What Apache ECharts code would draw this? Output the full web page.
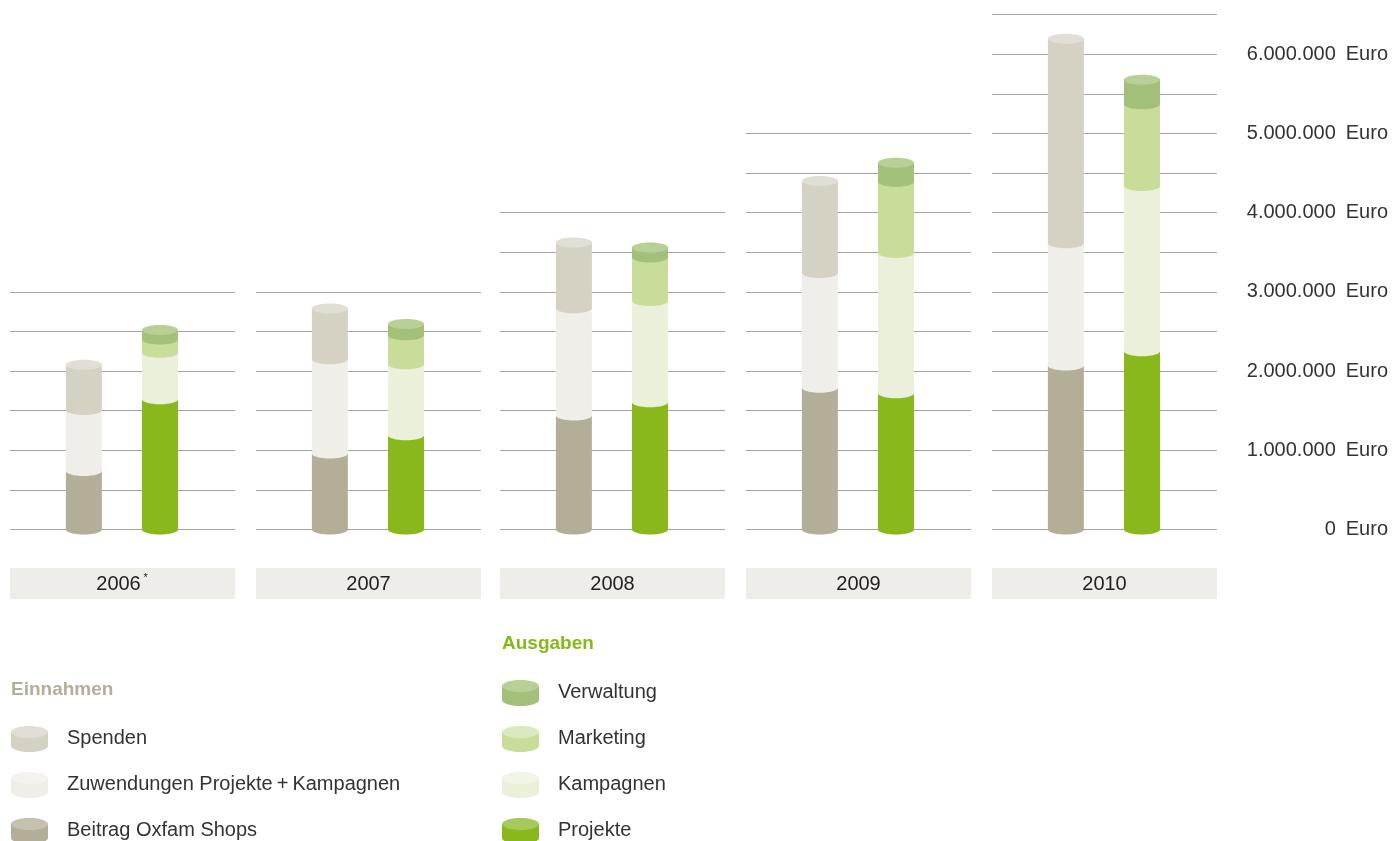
<!DOCTYPE html>
<html>
<head>
	<meta charset="UTF-8">
	<title>Einnahmen und Ausgaben 2006-2010</title>
	<style type="text/css">
		html, body { margin: 0; padding: 0; background: #fff; }
		#container { width: 1393px; height: 841px; }
	</style>
</head>
<body>
	<div id="container"></div>
	<script src="https://cdn.jsdelivr.net/npm/echarts@6/dist/echarts.min.js"></script>
	<script>
		var years = ['2006', '2007', '2008', '2009', '2010'];
		var yearNote = ['*', '', '', '', ''];

		// Einnahmen in Euro
		var beitragShops = [740000, 960000, 1440000, 1790000, 2070000];
		var zuwendungen = [770000, 1190000, 1355000, 1450000, 1545000];
		var spenden = [570000, 640000, 830000, 1160000, 2580000];

		// Ausgaben in Euro
		var projekte = [1645000, 1190000, 1607000, 1720000, 2250000];
		var kampagnen = [587000, 897000, 1279000, 1770000, 2087000];
		var marketing = [167000, 366000, 548000, 900000, 1032000];
		var verwaltung = [120000, 143000, 126000, 240000, 310000];

		// Höhe der Rasterlinien je Jahr
		var panelMax = [3000000, 3000000, 4000000, 5000000, 6500000];

		var einnahmenNames = ['Spenden', 'Zuwendungen Projekte\u2009+\u2009Kampagnen', 'Beitrag Oxfam Shops'];
		var ausgabenNames = ['Verwaltung', 'Marketing', 'Kampagnen', 'Projekte'];

		// Farben: 0 Beitrag, 1 Zuwendungen, 2 Spenden, 3 Projekte, 4 Kampagnen, 5 Marketing, 6 Verwaltung
		var bodyColors = ['#b3ae98', '#efeee9', '#d5d2c3', '#88b81b', '#eaf0da', '#c9dd9b', '#a2c07a'];
		var capColors = ['#c5c1ae', '#f4f3ef', '#e1dfd5', '#a5c95a', '#f1f5e7', '#dbe8c0', '#b8cf96'];

		var FONT = '"Liberation Sans", Arial, sans-serif';
		var baseY = 529.5;
		var pxPerEuro = 79.2 / 1000000;
		var panelLeft = [10, 256, 500, 746, 992];
		var panelW = 225;
		var barW = 36, capR = 5;

		function fmt(v) {
			return String(v).replace(/\B(?=(\d{3})+(?!\d))/g, '.');
		}

		var grids = [], xAxes = [], yAxes = [], series = [], graphics = [];

		for (var i = 0; i < years.length; i++) {
			var h = panelMax[i] * pxPerEuro;
			grids.push({ left: panelLeft[i], width: panelW, top: baseY - h, height: h });
			xAxes.push({ gridIndex: i, type: 'value', min: 0, max: 3, show: false });
			yAxes.push({
				gridIndex: i, type: 'value', min: 0, max: panelMax[i], interval: 500000,
				axisLine: { show: false }, axisTick: { show: false }, axisLabel: { show: false },
				splitLine: { lineStyle: { color: '#a5a5a5', width: 1 } }
			});

			// Stapel: x, von, bis, Farbe, oben?
			var rows = [];
			var s1 = [beitragShops[i], zuwendungen[i], spenden[i]];
			var s2 = [projekte[i], kampagnen[i], marketing[i], verwaltung[i]];
			var acc = 0;
			s1.forEach(function (v, k) {
				rows.push([0.985, acc, acc + v, k, k === s1.length - 1 ? 1 : 0]);
				acc += v;
			});
			acc = 0;
			s2.forEach(function (v, k) {
				rows.push([2, acc, acc + v, 3 + k, k === s2.length - 1 ? 1 : 0]);
				acc += v;
			});

			series.push({
				type: 'custom',
				xAxisIndex: i,
				yAxisIndex: i,
				clip: false,
				encode: { x: 0, y: [1, 2] },
				data: rows,
				renderItem: function (params, api) {
					var x = api.value(0), lo = api.value(1), hi = api.value(2);
					var ci = api.value(3), isTop = api.value(4);
					var p0 = api.coord([x, lo]);
					var p1 = api.coord([x, hi]);
					var kids = [
						{ type: 'rect', shape: { x: p0[0] - barW / 2, y: p1[1], width: barW, height: p0[1] - p1[1] }, style: { fill: bodyColors[ci] } },
						{ type: 'ellipse', shape: { cx: p0[0], cy: p0[1], rx: barW / 2, ry: capR }, style: { fill: bodyColors[ci] } }
					];
					if (isTop) {
						kids.push({ type: 'ellipse', shape: { cx: p1[0], cy: p1[1], rx: barW / 2, ry: capR }, style: { fill: capColors[ci] } });
					}
					return { type: 'group', children: kids };
				}
			});

			// Jahresbox
			graphics.push({ type: 'rect', left: panelLeft[i], top: 568, shape: { width: panelW, height: 31 }, style: { fill: '#eeede9' } });
			graphics.push({
				type: 'text', x: panelLeft[i] + panelW / 2 - (yearNote[i] ? 4 : 0), y: 584,
				style: { text: years[i], font: '20px ' + FONT, fill: '#222', align: 'center', verticalAlign: 'middle' }
			});
			if (yearNote[i]) {
				graphics.push({
					type: 'text', x: panelLeft[i] + panelW / 2 + 21, y: 578,
					style: { text: yearNote[i], font: '11px ' + FONT, fill: '#222', align: 'left', verticalAlign: 'middle' }
				});
			}
		}

		// Euro-Achse rechts
		yAxes.push({
			gridIndex: 4, type: 'value', position: 'right', min: 0, max: 6500000, interval: 1000000,
			axisLine: { show: false }, axisTick: { show: false }, splitLine: { show: false },
			axisLabel: {
				align: 'right', margin: 171,
				formatter: function (v) {
					if (v % 1000000 !== 0) return '';
					return '{n|' + fmt(v) + '}{e|Euro}';
				},
				rich: {
					n: { fontFamily: FONT, fontSize: 20, color: '#333' },
					e: { fontFamily: FONT, fontSize: 20, color: '#333', padding: [0, 0, 0, 10] }
				}
			}
		});

		function legendItem(x, cy, label, ci) {
			graphics.push({
				type: 'group',
				children: [
					{ type: 'rect', shape: { x: x, y: cy - 7, width: 37, height: 14 }, style: { fill: bodyColors[ci] } },
					{ type: 'ellipse', shape: { cx: x + 18.5, cy: cy + 7, rx: 18.5, ry: 6 }, style: { fill: bodyColors[ci] } },
					{ type: 'ellipse', shape: { cx: x + 18.5, cy: cy - 7, rx: 18.5, ry: 6 }, style: { fill: capColors[ci] } },
					{ type: 'text', x: x + 56, y: cy - 1, style: { text: label, font: '20px ' + FONT, fill: '#333', verticalAlign: 'middle' } }
				]
			});
		}

		graphics.push({ type: 'text', x: 11, y: 690, style: { text: 'Einnahmen', font: 'bold 19px ' + FONT, fill: '#b4af99', verticalAlign: 'middle' } });
		graphics.push({ type: 'text', x: 502, y: 644, style: { text: 'Ausgaben', font: 'bold 19px ' + FONT, fill: '#86b81b', verticalAlign: 'middle' } });

		var einIdx = [2, 1, 0];
		einnahmenNames.forEach(function (n, k) { legendItem(11, 739 + k * 46, n, einIdx[k]); });
		var ausIdx = [6, 5, 4, 3];
		ausgabenNames.forEach(function (n, k) { legendItem(502, 693 + k * 46, n, ausIdx[k]); });

		var myChart = echarts.init(document.getElementById('container'));
		myChart.setOption({
			animation: false,
			backgroundColor: '#fff',
			grid: grids,
			xAxis: xAxes,
			yAxis: yAxes,
			series: series,
			graphic: graphics
		});
	</script>
</body>
</html>
